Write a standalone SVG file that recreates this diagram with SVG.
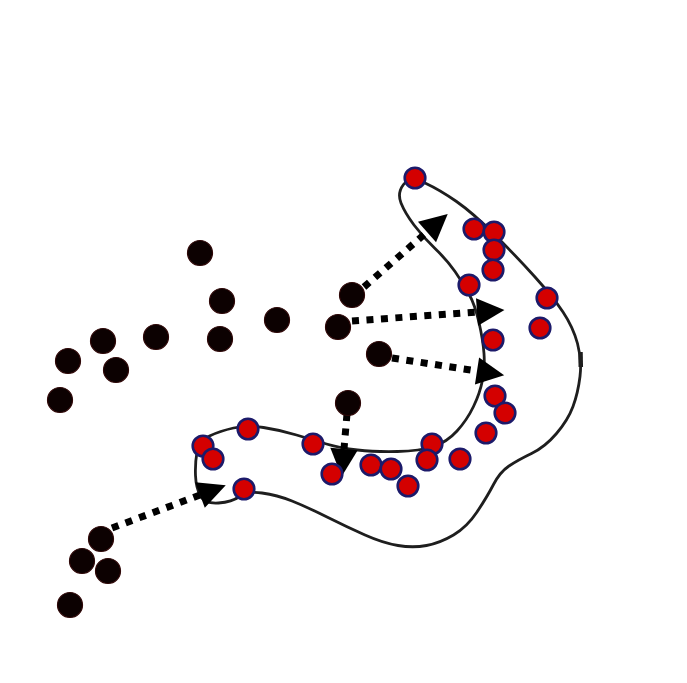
<svg xmlns="http://www.w3.org/2000/svg" width="687" height="683" viewBox="0 0 687 683">
<style>
.blk{fill:#0c0101;stroke:#2e0707;stroke-width:1.2}
.red{fill:#d40000;stroke:#1c1a6a;stroke-width:2.6}
.region{fill:none;stroke:#1e1e1e;stroke-width:2.8;stroke-linejoin:round}
.arrow{fill:none;stroke:#000;stroke-width:7;stroke-dasharray:7 7.5;marker-end:url(#head)}
</style>
<defs>
<marker id="head" markerUnits="userSpaceOnUse" markerWidth="30" markerHeight="30" refX="0" refY="0" viewBox="0 -12 24 24" orient="auto" overflow="visible">
<path d="M0,-11 L22,0 L0,11 Z" fill="#000"/>
</marker>
</defs>
<rect width="687" height="683" fill="#ffffff"/>
<g id="region">
<path class="region" d="M403.5,184.5 Q410,176 425,183 Q440,190 456.5,201.5 Q473,213 495,235 Q517,257 535,277 Q553,297 563,312 Q573,327 577.5,343.5 Q582,360 580,376.5 Q578,393 573,406.5 Q568,420 556.5,433.5 Q545,447 531.5,453.5 Q518,460 509,466 Q500,472 493.5,484.5 Q487,497 477,512 Q467,527 453.5,535 Q440,543 426.5,545.5 Q413,548 398,545.5 Q383,543 365,535 Q347,527 327,517 Q307,507 292,501 Q277,495 262,493 Q247,491 239.5,496.5 Q232,502 218.5,503 Q205,504 200.5,496 Q196,488 195.5,475.5 Q195,463 197,452 Q199,441 209.5,436 Q220,431 233.5,428 Q247,425 263.5,427.5 Q280,430 296.5,435 Q313,440 326.5,444 Q340,448 357.5,450 Q375,452 397.5,451.5 Q420,451 433.5,446.5 Q447,442 457,431 Q467,420 473.5,406.5 Q480,393 482.5,380 Q485,367 484,353.5 Q483,340 479,322.5 Q475,305 469,294 Q463,283 455,271.5 Q447,260 435,248.5 Q423,237 414,225 Q405,213 401,203 Q397,193 403.5,184.5 Z"/>
<line x1="580.5" y1="352" x2="580.8" y2="367" stroke="#1e1e1e" stroke-width="4.5"/>
</g>
<g id="connectors">
<line class="arrow" x1="364" y1="287" x2="427" y2="232"/>
<line class="arrow" x1="352" y1="321" x2="477" y2="312"/>
<line class="arrow" x1="392" y1="358" x2="477" y2="371"/>
<line class="arrow" x1="347" y1="414" x2="344" y2="449"/>
<line class="arrow" x1="112" y1="528" x2="200" y2="495"/>
</g>
<g id="black-points">
<circle class="blk" cx="200" cy="253" r="12.5"/>
<circle class="blk" cx="222" cy="301" r="12.5"/>
<circle class="blk" cx="277" cy="320" r="12.5"/>
<circle class="blk" cx="220" cy="339" r="12.5"/>
<circle class="blk" cx="156" cy="337" r="12.5"/>
<circle class="blk" cx="103" cy="341" r="12.5"/>
<circle class="blk" cx="68" cy="361" r="12.5"/>
<circle class="blk" cx="116" cy="370" r="12.5"/>
<circle class="blk" cx="60" cy="400" r="12.5"/>
<circle class="blk" cx="352" cy="295" r="12.5"/>
<circle class="blk" cx="338" cy="327" r="12.5"/>
<circle class="blk" cx="379" cy="354" r="12.5"/>
<circle class="blk" cx="348" cy="403" r="12.5"/>
<circle class="blk" cx="101" cy="539" r="12.5"/>
<circle class="blk" cx="82" cy="561" r="12.5"/>
<circle class="blk" cx="108" cy="571" r="12.5"/>
<circle class="blk" cx="70" cy="605" r="12.5"/>
</g>
<g id="red-points">
<circle class="red" cx="415" cy="178" r="10.3"/>
<circle class="red" cx="474" cy="229" r="10.3"/>
<circle class="red" cx="494" cy="232" r="10.3"/>
<circle class="red" cx="494" cy="250" r="10.3"/>
<circle class="red" cx="493" cy="270" r="10.3"/>
<circle class="red" cx="469" cy="285" r="10.3"/>
<circle class="red" cx="547" cy="298" r="10.3"/>
<circle class="red" cx="540" cy="328" r="10.3"/>
<circle class="red" cx="493" cy="340" r="10.3"/>
<circle class="red" cx="495" cy="396" r="10.3"/>
<circle class="red" cx="505" cy="413" r="10.3"/>
<circle class="red" cx="486" cy="433" r="10.3"/>
<circle class="red" cx="432" cy="444" r="10.3"/>
<circle class="red" cx="427" cy="460" r="10.3"/>
<circle class="red" cx="460" cy="459" r="10.3"/>
<circle class="red" cx="371" cy="465" r="10.3"/>
<circle class="red" cx="391" cy="469" r="10.3"/>
<circle class="red" cx="408" cy="486" r="10.3"/>
<circle class="red" cx="332" cy="474" r="10.3"/>
<circle class="red" cx="313" cy="444" r="10.3"/>
<circle class="red" cx="248" cy="429" r="10.3"/>
<circle class="red" cx="203" cy="446" r="10.3"/>
<circle class="red" cx="213" cy="459" r="10.3"/>
<circle class="red" cx="244" cy="489" r="10.3"/>
</g>
</svg>
